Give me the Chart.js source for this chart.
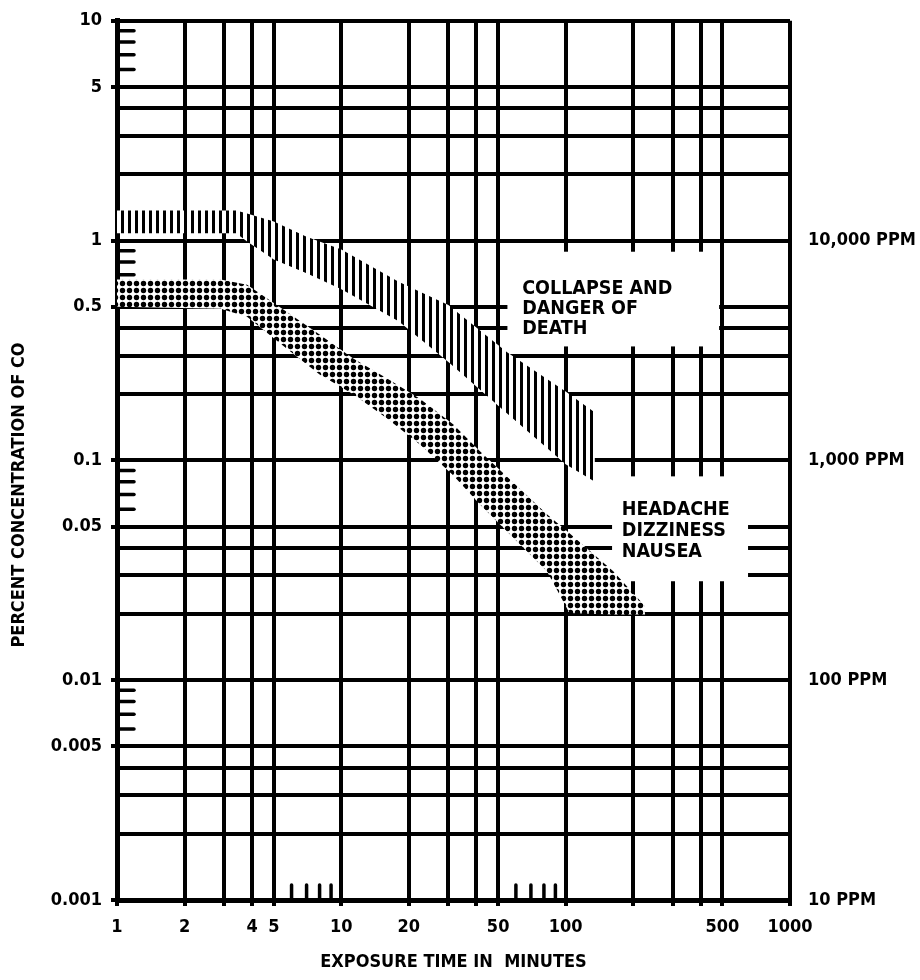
<!DOCTYPE html>
<html lang="en">
<head>
<meta charset="UTF-8">
<title>CO exposure chart</title>
<script src="https://cdn.jsdelivr.net/npm/chart.js"></script>
<style>
    body { margin: 0; background: #fff; }
    .wrap { width: 920px; height: 980px; position: relative; }
</style>
</head>
<body>
<div class="wrap"><canvas id="coChart"></canvas></div>
<script>
// axis grid, tick labels
const xGrid = [1, 2, 3, 4, 5, 10, 20, 30, 40, 50, 100, 200, 300, 400, 500, 1000];
const xLabels = [1, 2, 4, 5, 10, 20, 50, 100, 500, 1000];
const xMinor = [6, 7, 8, 9, 60, 70, 80, 90];
const yGrid = [0.001, 0.002, 0.003, 0.004, 0.005, 0.01, 0.02, 0.03, 0.04, 0.05,
               0.1, 0.2, 0.3, 0.4, 0.5, 1, 2, 3, 4, 5, 10];
const yLabels = [0.001, 0.005, 0.01, 0.05, 0.1, 0.5, 1, 5, 10];
const yMinor = [0.006, 0.007, 0.008, 0.009, 0.06, 0.07, 0.08, 0.09,
                0.6, 0.7, 0.8, 0.9, 6, 7, 8, 9];
const ppmTicks = [0.001, 0.01, 0.1, 1];
const ppmLabels = ['10 PPM', '100 PPM', '1,000 PPM', '10,000 PPM'];

// collapse and danger of death band (minutes, percent CO)
const collapseTime = [1, 3.4, 3.8, 5, 7, 10, 18, 30, 55, 100, 135];
const collapseHigh = [1.37, 1.37, 1.33, 1.22, 1.04, 0.91, 0.65, 0.51, 0.31, 0.206, 0.165];
const collapseLow = [1.08, 1.08, 0.99, 0.82, 0.71, 0.6, 0.43, 0.28, 0.163, 0.096, 0.08];

// headache / dizziness / nausea band
const headacheTime = [1, 2.9, 3.8, 5.7, 8, 11.3, 16, 22.4, 31.5, 41.5, 82.5, 104, 163, 226];
const headacheHigh = [0.665, 0.665, 0.63, 0.475, 0.374, 0.291, 0.236, 0.191, 0.146, 0.11,
                      0.0569, 0.0466, 0.0313, 0.0217];
const headacheLow = [0.5, 0.49, 0.45, 0.323, 0.246, 0.2, 0.155, 0.118, 0.0855, 0.063,
                     0.0313, 0.0202, 0.0199, 0.0199];

// label areas (data coords) that blank out the grid
const collapseBox = { x0: 55, x1: 483, y0: 0.33, y1: 0.89 };
const headacheBox = { x0: 161, x1: 650, y0: 0.0282, y1: 0.0846 };
const collapseText = ['COLLAPSE AND', 'DANGER OF', 'DEATH'];
const headacheText = ['HEADACHE', 'DIZZINESS', 'NAUSEA'];

const FONT = '"DejaVu Sans Condensed", "DejaVu Sans", sans-serif';
Chart.defaults.font.family = FONT;

function makePattern(draw) {
    const c = document.createElement('canvas');
    c.width = 7; c.height = 7;
    const g = c.getContext('2d');
    g.fillStyle = '#fff';
    g.fillRect(0, 0, 7, 7);
    g.fillStyle = '#000';
    draw(g);
    return g.createPattern(c, 'repeat');
}
const hatch = makePattern(g => g.fillRect(2, 0, 3, 7));
const dots = makePattern(g => { g.beginPath(); g.arc(3.5, 3.5, 2.7, 0, Math.PI * 2); g.fill(); });

function pts(xs, ys) { return xs.map((x, i) => ({ x: x, y: ys[i] })); }

const band = { borderWidth: 0, borderColor: 'transparent', pointRadius: 0, tension: 0 };

// minor ticks, white label boxes, labels, y title
const overlay = {
    id: 'overlay',
    beforeDatasetsDraw(chart) {
        const { ctx, chartArea: a, scales: { x, y } } = chart;
        ctx.save();
        ctx.strokeStyle = '#000';
        ctx.lineWidth = 3.5;
        ctx.lineCap = 'round';
        yMinor.forEach(v => {
            const py = y.getPixelForValue(v);
            ctx.beginPath(); ctx.moveTo(a.left, py); ctx.lineTo(a.left + 17, py); ctx.stroke();
        });
        xMinor.forEach(v => {
            const px = x.getPixelForValue(v);
            ctx.beginPath(); ctx.moveTo(px, a.bottom); ctx.lineTo(px, a.bottom - 15); ctx.stroke();
        });

        ctx.fillStyle = '#fff';
        [collapseBox, headacheBox].forEach(b => {
            const l = x.getPixelForValue(b.x0), r = x.getPixelForValue(b.x1);
            const t = y.getPixelForValue(b.y1), btm = y.getPixelForValue(b.y0);
            ctx.fillRect(l, t, r - l, btm - t);
        });

        ctx.fillStyle = '#000';
        ctx.font = 'bold 19.5px ' + FONT;
        ctx.textAlign = 'left';
        ctx.textBaseline = 'alphabetic';
        let px = x.getPixelForValue(64), py = y.getPixelForValue(0.574);
        collapseText.forEach((s, i) => ctx.fillText(s, px, py + i * 20));
        px = x.getPixelForValue(178); py = y.getPixelForValue(0.0562);
        headacheText.forEach((s, i) => ctx.fillText(s, px, py + i * 21));
        ctx.restore();
    },
    afterDraw(chart) {
        const { ctx } = chart;
        ctx.save();
        ctx.translate(19, 495);
        ctx.rotate(-Math.PI / 2);
        ctx.fillStyle = '#000';
        ctx.font = 'bold 18px ' + FONT;
        ctx.textAlign = 'center';
        ctx.textBaseline = 'middle';
        ctx.fillText('PERCENT CONCENTRATION OF CO', 0, 0);
        ctx.restore();
    }
};

new Chart(document.getElementById('coChart'), {
    type: 'line',
    data: {
        datasets: [
            Object.assign({ data: pts(collapseTime, collapseHigh), fill: '+1', backgroundColor: hatch }, band),
            Object.assign({ data: pts(collapseTime, collapseLow), fill: false }, band),
            Object.assign({ data: pts(headacheTime, headacheHigh), fill: '+1', backgroundColor: dots }, band),
            Object.assign({ data: pts(headacheTime, headacheLow), fill: false }, band)
        ]
    },
    options: {
        responsive: true,
        maintainAspectRatio: false,
        animation: false,
        layout: { padding: { top: 10, left: 0, right: 0, bottom: 0 } },
        plugins: { legend: { display: false }, tooltip: { enabled: false } },
        scales: {
            x: {
                type: 'logarithmic', min: 1, max: 1000,
                afterBuildTicks: s => { s.ticks = xGrid.map(v => ({ value: v })); },
                afterFit: s => { s.height = 80; },
                grid: { color: '#000', lineWidth: 4, tickLength: 6, tickWidth: 4, tickColor: '#000' },
                border: { color: '#000', width: 5 },
                ticks: {
                    autoSkip: false, maxRotation: 0, padding: 11, color: '#000',
                    font: { size: 18, weight: 'bold' },
                    callback: v => xLabels.includes(v) ? String(v) : ''
                },
                title: {
                    display: true, text: 'EXPOSURE TIME IN  MINUTES', color: '#000',
                    font: { size: 18, weight: 'bold' }, padding: { top: 0, bottom: 7 }
                }
            },
            y: {
                type: 'logarithmic', min: 0.001, max: 10, position: 'left',
                afterBuildTicks: s => { s.ticks = yGrid.map(v => ({ value: v })); },
                afterFit: s => { s.width = 117; },
                grid: {
                    color: '#000', lineWidth: 4, tickLength: 6, tickWidth: 4,
                    tickColor: c => (c.tick && yLabels.includes(c.tick.value)) ? '#000' : 'transparent'
                },
                border: { color: '#000', width: 5 },
                ticks: {
                    autoSkip: false, padding: 9, color: '#000',
                    font: { size: 18, weight: 'bold' },
                    callback: v => yLabels.includes(v) ? String(v) : ''
                }
            },
            y2: {
                type: 'logarithmic', min: 0.001, max: 10, position: 'right',
                afterBuildTicks: s => { s.ticks = ppmTicks.map(v => ({ value: v })); },
                afterFit: s => { s.width = 130; },
                grid: { display: false },
                border: { display: false },
                ticks: {
                    autoSkip: false, padding: 10, color: '#000',
                    font: { size: 18, weight: 'bold' },
                    callback: v => { const i = ppmTicks.indexOf(v); return i >= 0 ? ppmLabels[i] : ''; }
                }
            }
        }
    },
    plugins: [overlay]
});
</script>
</body>
</html>
